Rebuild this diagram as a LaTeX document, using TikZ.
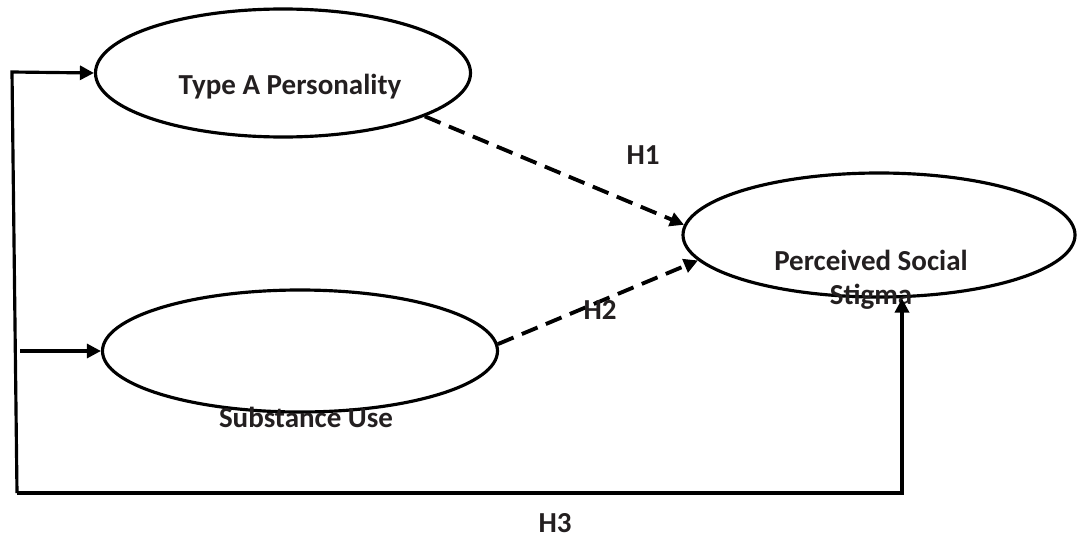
\documentclass[tikz,border=0pt]{standalone}
\usepackage{fontspec}
\setmainfont{Carlito}
\usetikzlibrary{shapes.geometric,arrows.meta}
\definecolor{txtgray}{HTML}{231F20}
\tikzset{
  construct/.style={ellipse, draw=black, line width=1.8pt, inner sep=0pt},
  lbl/.style={font=\fontsize{16.5}{18}\selectfont\bfseries, text=txtgray, align=center},
  solidarrow/.style={line width=1.8pt, -{Triangle[length=2.8mm,width=2.8mm]}},
  hypdash/.style={line width=2.2pt, dash pattern=on 3.4mm off 1.8mm, -{Triangle[length=2.8mm,width=2.8mm]}}
}
\begin{document}
\begin{tikzpicture}[x=0.2mm, y=-0.2mm]
    \useasboundingbox (0,0) rectangle (1077,539);

    % Constructs
    \node[construct, minimum width=75mm, minimum height=25.6mm] (ta) at (283,73) {};
    \node[construct, minimum width=79mm, minimum height=24.4mm] (su) at (300,351) {};
    \node[construct, minimum width=78.4mm, minimum height=24.8mm] (pss) at (879,235) {};

    \node[lbl] (taText) at (290,87) {Type A Personality};
    \node[lbl] (suText) at (306,417) {Substance Use};
    \node[lbl] (pssText) at (871,260) {Perceived Social};
    \node[lbl] (pssText2) at (871,297) {Stigma};

    % Outer frame
    \coordinate (ltop) at (12,72);
    \coordinate (lbot) at (17,493);
    \coordinate (lmid) at (20,351);
    \coordinate (corner) at (902,493);

    \draw[solidarrow] (lbot) -- (ltop) -- (ta.west);
    \draw[solidarrow] (lmid) -- (su.west);
    \draw[solidarrow, line width=2.2pt] (lbot) -- (corner) -- (corner |- pss.south);

    % Hypotheses
    \draw[hypdash] (ta.-17) -- (pss.177);
    \draw[hypdash] (su.2) -- (pss.188);

    \node[lbl] (h1) at (643,155) {H1};
    \node[lbl] (h2) at (600,310) {H2};
    \node[lbl] (h3) at (555,523) {H3};
\end{tikzpicture}
\end{document}
